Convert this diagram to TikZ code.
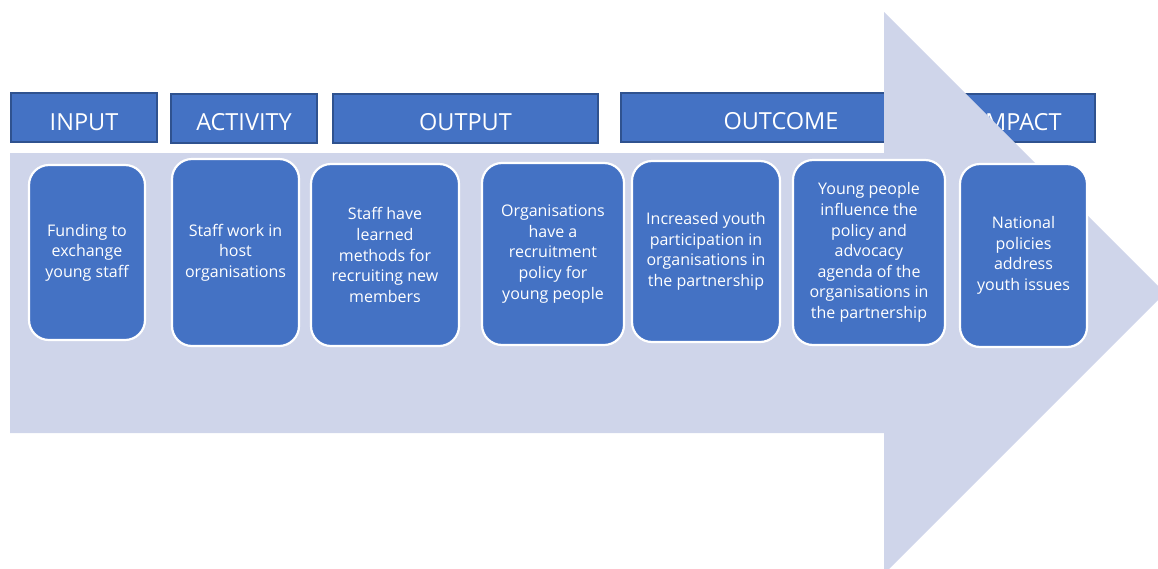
\documentclass[tikz,border=0pt]{standalone}
\usepackage{fontspec}
\setmainfont{Open Sans}
\usetikzlibrary{positioning}

\definecolor{boxblue}{HTML}{4472C4}
\definecolor{edgeblue}{HTML}{2F528F}
\definecolor{shaftgrey}{HTML}{CFD5EA}

\begin{document}
\begin{tikzpicture}[x=1pt, y=-1pt,
    hdr/.style={rectangle, draw=edgeblue, line width=2pt, fill=boxblue, text=white, inner sep=0pt, text height=25pt, text depth=0pt, font=\fontsize{23.5}{28}\selectfont},
    card/.style={rectangle, rounded corners=20pt, draw=white, line width=2.2pt, fill=boxblue, text=white, inner sep=0pt, align=center, font=\fontsize{16}{20.6}\selectfont}]
            \useasboundingbox (0,0) rectangle (1158,568);
            \clip (0,0) rectangle (1158,568);
            % stage headings
            \node[hdr, minimum width=146pt, minimum height=49pt] (input) at (84,117.5) {INPUT};
            \node[hdr, minimum width=146pt, minimum height=49pt] (activity) at (244,118) {ACTIVITY};
            \node[hdr, minimum width=265pt, minimum height=49pt] (output) at (465.5,118) {OUTPUT};
            \node[hdr, minimum width=320pt, minimum height=49pt] (outcome) at (781,117) {OUTCOME};
            \node[hdr, minimum width=150pt, minimum height=48pt] (impact) at (1020,118) {IMPACT};
            % big arrow
            \fill[shaftgrey] (10,153) -- (884,153) -- (884,12) -- (1165,293) -- (884,574) -- (884,433) -- (10,433) -- cycle;
            % steps
            \node[card, minimum width=116pt, minimum height=175pt] (funding) at (87,252.5) {Funding to\\exchange\\young staff};
            \node[card, minimum width=127pt, minimum height=187pt] (work) at (235.5,252.5) {Staff work in\\host\\organisations};
            \node[card, minimum width=148pt, minimum height=182pt] (learned) at (385,255) {Staff have\\learned\\methods for\\recruiting new\\members};
            \node[card, minimum width=142pt, minimum height=182pt] (policy) at (553,254) {Organisations\\have a\\recruitment\\policy for\\young people};
            \node[card, minimum width=148pt, minimum height=181pt] (youth) at (706,251.5) {Increased youth\\participation in\\organisations in\\the partnership};
            \node[card, minimum width=152pt, minimum height=185pt] (agenda) at (869,252.5) {Young people\\influence the\\policy and\\advocacy\\agenda of the\\organisations in\\the partnership};
            \node[card, minimum width=127pt, minimum height=183pt] (national) at (1023.5,255.5) {National\\policies\\address\\youth issues};
        \end{tikzpicture}
\end{document}
